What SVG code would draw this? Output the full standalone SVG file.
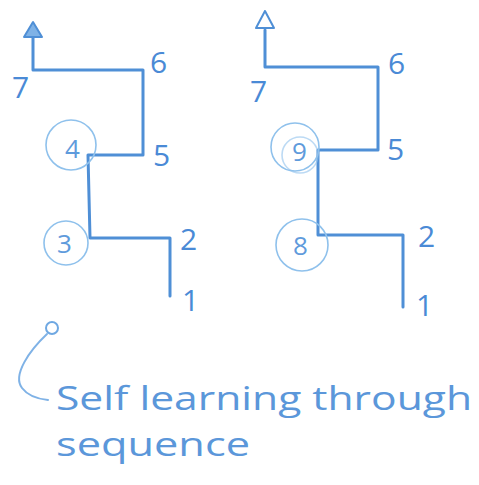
<svg xmlns="http://www.w3.org/2000/svg" width="479" height="485" viewBox="0 0 479 485">
  <style>
    .line { fill: none; stroke: #4f8fd6; stroke-width: 3; stroke-linecap: round; stroke-linejoin: round; }
    .ring { fill: none; stroke: #8fc1ec; stroke-width: 1.6; }
    .num { font-family: "Open Sans", "Liberation Sans", sans-serif; font-weight: 400; font-size: 30px; fill: #4a8ad6; }
    .numc { font-family: "Open Sans", "Liberation Sans", sans-serif; font-weight: 400; font-size: 26px; fill: #5f9bdc; }
    .note { font-family: "Open Sans", "Liberation Sans", sans-serif; font-weight: 400; font-size: 32px; fill: #5b97da; }
    .head { fill: #7fb2e6; stroke: #4f8fd6; stroke-width: 2; stroke-linejoin: round; }
  </style>

  <!-- stepped path routes -->
  <g id="connectors">
    <path class="line" d="M170,296 L170,238 L90,238 L88,155 L143,155 L143,70 L33,70 L33,38"/>
    <polygon class="head" points="33,22 24,37 42,37"/>
    <path class="line" d="M403,307 L403,235 L318,235 L318,150 L378,150 L378,67 L265,67 L265,30"/>
    <polygon class="head" points="265,11 256,28 274,28" style="fill:none"/>
    <path class="line" style="stroke:#7fb2e6;stroke-width:2" d="M47,334 C30,350 12,375 22,388 C28,396 38,399 48,400"/>
  </g>

  <!-- left sequence -->
  <g id="left-1"><text class="num" x="182" y="311">1</text></g>
  <g id="left-2"><text class="num" x="180" y="250">2</text></g>
  <g id="left-3"><circle class="ring" cx="66" cy="243" r="22"/><text class="numc" x="57" y="253">3</text></g>
  <g id="left-4"><circle class="ring" cx="71" cy="145" r="25"/><text class="numc" x="65" y="158">4</text></g>
  <g id="left-5"><text class="num" x="153" y="166">5</text></g>
  <g id="left-6"><text class="num" x="150" y="73">6</text></g>
  <g id="left-7"><text class="num" x="12" y="98">7</text></g>

  <!-- right sequence -->
  <g id="right-1"><text class="num" x="416" y="316">1</text></g>
  <g id="right-2"><text class="num" x="418" y="247">2</text></g>
  <g id="right-8"><circle class="ring" cx="302" cy="245" r="26"/><text class="numc" x="293" y="255">8</text></g>
  <g id="right-9"><circle class="ring" cx="295" cy="147" r="24"/><circle class="ring" cx="300" cy="155" r="18" style="opacity:0.6"/><text class="numc" x="292" y="161">9</text></g>
  <g id="right-5"><text class="num" x="387" y="160">5</text></g>
  <g id="right-6"><text class="num" x="388" y="74">6</text></g>
  <g id="right-7"><text class="num" x="250" y="102">7</text></g>

  <!-- caption -->
  <g id="caption">
    <circle class="ring" cx="52" cy="328" r="6" style="stroke:#6fa8e2;stroke-width:2"/>
    <text class="note" x="56" y="410" textLength="416" lengthAdjust="spacingAndGlyphs">Self learning through</text>
    <text class="note" x="56" y="456" textLength="194" lengthAdjust="spacingAndGlyphs">sequence</text>
  </g>
</svg>
